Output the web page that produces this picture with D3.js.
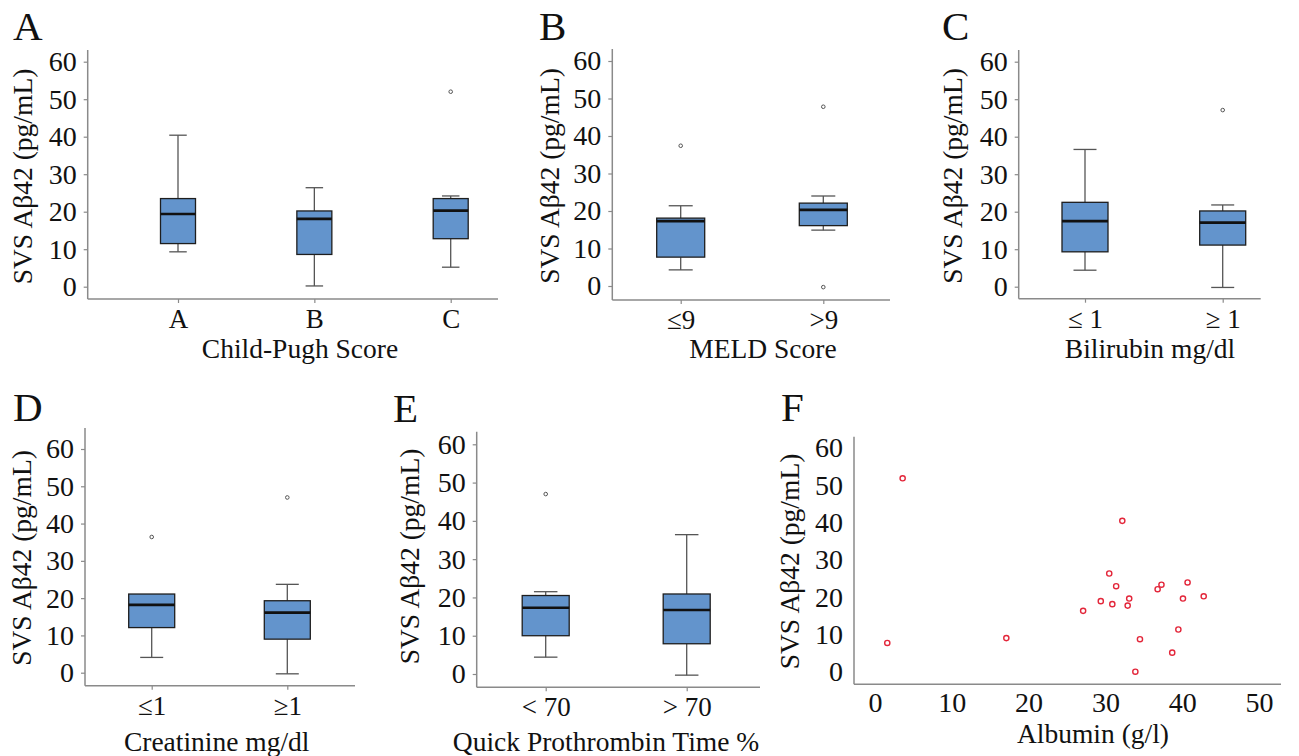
<!DOCTYPE html>
<html>
<head>
<meta charset="utf-8">
<script src="https://cdn.jsdelivr.net/npm/d3@7"></script>
<style>
  body { margin: 0; background: #fff; }
  svg text { font-family: "Liberation Serif", "Times New Roman", serif; fill: #111; }
</style>
</head>
<body>
<svg id="fig" width="1299" height="756"></svg>
<script>
// ---- Data -------------------------------------------------------------
// Box summaries are [lower whisker, Q1, median, Q3, upper whisker] in pg/mL.
const yTicks = [0, 10, 20, 30, 40, 50, 60];

const childPughGroups   = ["A", "B", "C"];
const childPughStats    = [[9.3, 11.5, 19.4, 23.5, 40.4], [0.2, 8.6, 18.1, 20.2, 26.4], [5.2, 12.8, 20.3, 23.5, 24.2]];
const childPughOutliers = [[], [], [52.0]];

const meldGroups   = ["≤9", ">9"];
const meldStats    = [[4.3, 7.7, 17.3, 18.1, 21.4], [14.9, 16.1, 20.3, 22.1, 24.0]];
const meldOutliers = [[37.4], [47.8, -0.3]];

const bilirubinGroups   = ["≤ 1", "≥ 1"];
const bilirubinStats    = [[4.4, 9.3, 17.5, 22.5, 36.6], [-0.2, 11.1, 17.1, 20.2, 21.8]];
const bilirubinOutliers = [[], [47.1]];

const creatinineGroups   = ["≤1", "≥1"];
const creatinineStats    = [[4.1, 12.1, 18.2, 21.1, 21.1], [-0.3, 9.0, 16.1, 19.3, 23.7]];
const creatinineOutliers = [[36.4], [47.0]];

const quickGroups   = ["< 70", "> 70"];
const quickStats    = [[4.4, 10.0, 17.3, 20.5, 21.5], [-0.3, 7.9, 16.7, 20.9, 36.4]];
const quickOutliers = [[47.0], []];

const albuminTicks = [0, 10, 20, 30, 40, 50];
const albuminValues = [1.6, 3.6, 17.1, 27.1, 29.4, 30.5, 30.9, 31.4, 32.2, 32.9, 33.1, 33.9, 34.5, 36.8, 37.3, 38.7, 39.5, 40.1, 40.7, 42.8];
const abetaValues   = [7.7, 51.8, 9.0, 16.3, 18.9, 26.3, 18.1, 22.9, 40.4, 17.7, 19.6, 0.0, 8.7, 22.1, 23.3, 5.1, 11.3, 19.6, 23.9, 20.2];

// ---- Styling ----------------------------------------------------------
const BOX_FILL = "#6394cc";
const AXIS_COL = "#8a8a8a";
const TICK_FONT = 28;
const CAT_FONT = 27;
const TITLE_FONT = 27.5;
const LETTER_FONT = 41;
const Y_TITLE = "SVS Aβ42 (pg/mL)";

const svg = d3.select("#fig");

function styleAxis(sel, size) {
  sel.select(".domain").remove();
  sel.selectAll(".tick line").attr("stroke", AXIS_COL).attr("stroke-width", 1.2);
  sel.selectAll(".tick text").style("font-size", (size || TICK_FONT) + "px").attr("fill", "#111");
}

function frame(g, p) {
  g.append("line").attr("x1", p.ax).attr("x2", p.ax).attr("y1", p.top).attr("y2", p.axY)
    .attr("stroke", AXIS_COL).attr("stroke-width", 1.5);
  g.append("line").attr("x1", p.ax).attr("x2", p.right).attr("y1", p.axY).attr("y2", p.axY)
    .attr("stroke", AXIS_COL).attr("stroke-width", 1.5);
  g.append("text").attr("x", p.letter[0]).attr("y", p.letter[1])
    .style("font-size", LETTER_FONT + "px").text(p.name);
  g.append("text").attr("transform", `translate(${p.yt[0]},${p.yt[1]}) rotate(-90)`)
    .attr("text-anchor", "middle").style("font-size", TITLE_FONT + "px").text(Y_TITLE);
  g.append("text").attr("x", p.xt[0]).attr("y", p.xt[1]).attr("text-anchor", "middle")
    .style("font-size", TITLE_FONT + "px").text(p.xTitle);
}

function boxPanel(p) {
  const g = svg.append("g");
  const y = d3.scaleLinear().domain([0, 60]).range([p.y0, p.y60]);
  const x = d3.scalePoint().domain(p.groups).range([p.c0, p.c1]);

  g.append("g").attr("transform", `translate(${p.ax},0)`)
    .call(d3.axisLeft(y).tickValues(yTicks).tickSize(4).tickPadding(7))
    .call(s => styleAxis(s));
  g.append("g").attr("transform", `translate(0,${p.axY})`)
    .call(d3.axisBottom(x).tickSize(4).tickPadding(6))
    .call(s => styleAxis(s, CAT_FONT));
  frame(g, p);

  const bw = p.bw;
  p.groups.forEach((grp, i) => {
    const [lo, q1, med, q3, hi] = p.stats[i];
    const cx = x(grp);
    const wg = g.append("g").attr("stroke", "#555").attr("stroke-width", 1.3);
    if (hi > q3) {
      wg.append("line").attr("x1", cx).attr("x2", cx).attr("y1", y(hi)).attr("y2", y(q3));
      wg.append("line").attr("x1", cx - bw / 4).attr("x2", cx + bw / 4).attr("y1", y(hi)).attr("y2", y(hi));
    }
    if (lo < q1) {
      wg.append("line").attr("x1", cx).attr("x2", cx).attr("y1", y(q1)).attr("y2", y(lo));
      wg.append("line").attr("x1", cx - bw / 4).attr("x2", cx + bw / 4).attr("y1", y(lo)).attr("y2", y(lo));
    }
    g.append("rect").attr("x", cx - bw / 2).attr("width", bw)
      .attr("y", y(q3)).attr("height", y(q1) - y(q3))
      .attr("fill", BOX_FILL).attr("stroke", "#1e1e1e").attr("stroke-width", 1.3);
    g.append("line").attr("x1", cx - bw / 2).attr("x2", cx + bw / 2)
      .attr("y1", y(med)).attr("y2", y(med)).attr("stroke", "#111").attr("stroke-width", 2.6);
    g.selectAll(null).data(p.outliers[i]).join("circle")
      .attr("cx", cx).attr("cy", d => y(d)).attr("r", 1.8)
      .attr("fill", "#fff").attr("stroke", "#555").attr("stroke-width", 1);
  });
}

boxPanel({ name: "A", groups: childPughGroups, stats: childPughStats, outliers: childPughOutliers,
  xTitle: "Child-Pugh Score", ax: 87.7, top: 50, axY: 299, right: 498, y0: 286.7, y60: 61.7,
  c0: 178, c1: 450.7, bw: 35, letter: [13, 39.5], yt: [32, 176.5], xt: [300, 358] });

boxPanel({ name: "B", groups: meldGroups, stats: meldStats, outliers: meldOutliers,
  xTitle: "MELD Score", ax: 612.3, top: 49, axY: 300, right: 890, y0: 286, y60: 61,
  c0: 680.7, c1: 823.3, bw: 48, letter: [539, 39.5], yt: [558.5, 176], xt: [763, 358] });

boxPanel({ name: "C", groups: bilirubinGroups, stats: bilirubinStats, outliers: bilirubinOutliers,
  xTitle: "Bilirubin mg/dl", ax: 1018.7, top: 50, axY: 298.7, right: 1260.7, y0: 286.7, y60: 61.7,
  c0: 1085, c1: 1222.7, bw: 46, letter: [942, 39.5], yt: [962, 176], xt: [1150, 358] });

boxPanel({ name: "D", groups: creatinineGroups, stats: creatinineStats, outliers: creatinineOutliers,
  xTitle: "Creatinine mg/dl", ax: 85, top: 428, axY: 685.7, right: 355, y0: 672.7, y60: 449,
  c0: 151.7, c1: 287.3, bw: 46, letter: [13, 421], yt: [31, 558], xt: [216.7, 751] });

boxPanel({ name: "E", groups: quickGroups, stats: quickStats, outliers: quickOutliers,
  xTitle: "Quick Prothrombin Time %", ax: 476.7, top: 431.7, axY: 687.3, right: 760, y0: 674, y60: 444.3,
  c0: 545.7, c1: 686.7, bw: 47, letter: [393, 421.7], yt: [419, 556.5], xt: [606, 751] });

// ---- Panel F: scatter of albumin vs SVS Aβ42 --------------------------
(function scatterPanel() {
  const p = { name: "F", xTitle: "Albumin (g/l)", ax: 854, top: 436.7, axY: 684.3, right: 1281,
    letter: [781, 420.7], yt: [799, 561.5], xt: [1093, 743] };
  const g = svg.append("g");
  const y = d3.scaleLinear().domain([0, 60]).range([671.7, 447.7]);
  const x = d3.scaleLinear().domain([0, 50]).range([875, 1259]);

  g.append("g").attr("transform", `translate(${p.ax},0)`)
    .call(d3.axisLeft(y).tickValues(yTicks).tickSize(0).tickPadding(11))
    .call(s => styleAxis(s));
  g.append("g").attr("transform", `translate(0,${p.axY})`)
    .call(d3.axisBottom(x).tickValues(albuminTicks).tickSize(0).tickPadding(8))
    .call(s => styleAxis(s));
  frame(g, p);

  g.selectAll(null).data(d3.zip(albuminValues, abetaValues)).join("circle")
    .attr("cx", d => x(d[0])).attr("cy", d => y(d[1])).attr("r", 2.6)
    .attr("fill", "#fff").attr("stroke", "#e3263a").attr("stroke-width", 1.4);
})();
</script>
</body>
</html>
